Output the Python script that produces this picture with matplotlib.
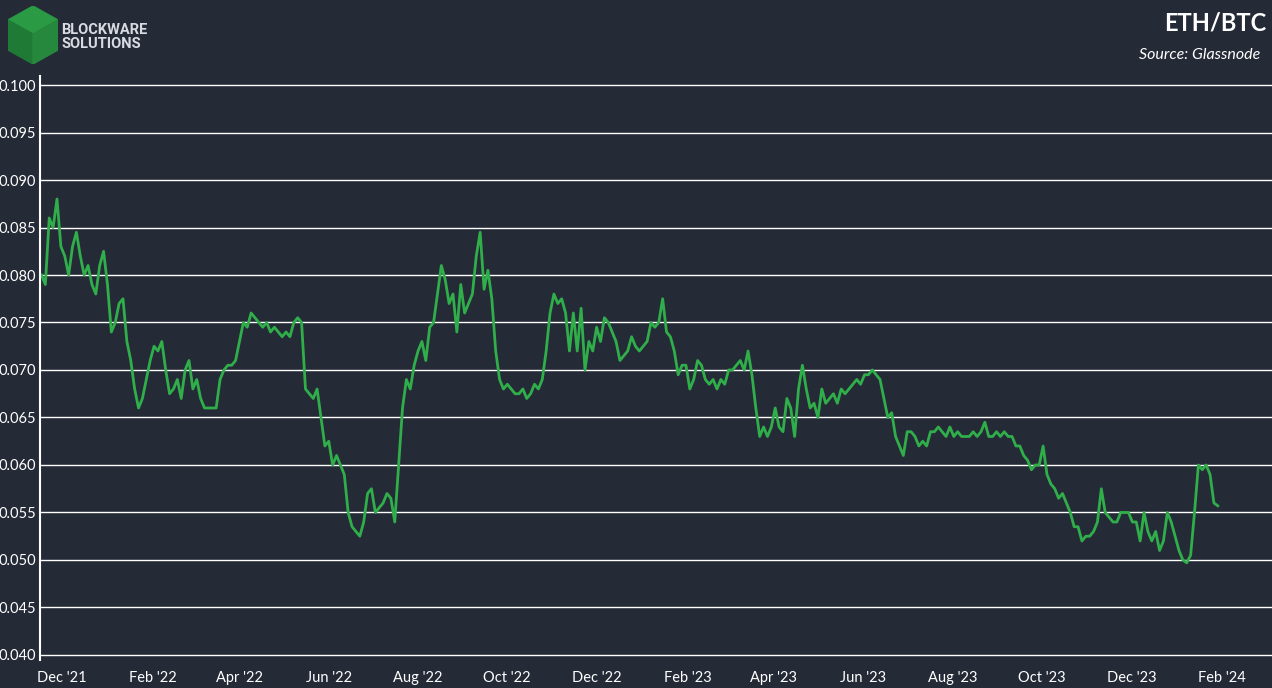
import matplotlib
matplotlib.use("Agg")
import matplotlib.pyplot as plt
import matplotlib.dates as mdates
import matplotlib.ticker as mticker
from matplotlib.patches import Polygon
import pandas as pd

values = [0.080,0.079,0.086,0.085,0.088,0.083,0.082,0.080,0.083,0.0845,0.082,0.080,0.081,0.079,0.078,0.081,0.0825,0.079,0.074,0.075,0.077,0.0775,0.073,0.071,0.068,0.066,0.067,0.069,0.071,0.0725,0.072,0.073,0.070,0.0675,0.068,0.069,0.067,0.070,0.071,0.068,0.069,0.067,0.066,0.066,0.066,0.066,0.069,0.070,0.0705,0.0705,0.071,0.073,0.075,0.0745,0.076,0.0755,0.075,0.0745,0.075,0.074,0.0745,0.074,0.0735,0.074,0.0735,0.075,0.0755,0.075,0.068,0.0675,0.067,0.068,0.065,0.062,0.0625,0.060,0.061,0.060,0.059,0.055,0.0535,0.053,0.0525,0.054,0.057,0.0575,0.055,0.0555,0.056,0.057,0.0565,0.054,0.060,0.066,0.069,0.068,0.0705,0.072,0.073,0.071,0.0745,0.075,0.078,0.081,0.0795,0.077,0.078,0.074,0.079,0.076,0.077,0.078,0.082,0.0845,0.0785,0.0805,0.0775,0.072,0.069,0.068,0.0685,0.068,0.0675,0.0675,0.068,0.067,0.0675,0.0685,0.068,0.069,0.072,0.076,0.078,0.077,0.0775,0.076,0.072,0.076,0.072,0.0765,0.070,0.073,0.072,0.0745,0.073,0.0755,0.075,0.074,0.073,0.071,0.0715,0.072,0.0735,0.0725,0.072,0.0725,0.073,0.075,0.0745,0.075,0.0775,0.074,0.0735,0.072,0.0695,0.0705,0.0705,0.068,0.069,0.071,0.0705,0.069,0.0685,0.069,0.068,0.069,0.0685,0.070,0.070,0.0705,0.071,0.070,0.072,0.0695,0.066,0.063,0.064,0.063,0.064,0.066,0.064,0.0635,0.067,0.066,0.063,0.068,0.0705,0.068,0.066,0.0665,0.065,0.068,0.0665,0.067,0.0675,0.0665,0.068,0.0675,0.068,0.0685,0.069,0.0685,0.0695,0.0695,0.070,0.0695,0.069,0.067,0.065,0.0655,0.063,0.062,0.061,0.0635,0.0635,0.063,0.062,0.0625,0.062,0.0635,0.0635,0.064,0.0635,0.063,0.064,0.063,0.0635,0.063,0.063,0.063,0.0635,0.063,0.0635,0.0645,0.063,0.063,0.0635,0.063,0.0635,0.063,0.063,0.062,0.062,0.061,0.0605,0.0595,0.060,0.060,0.062,0.059,0.058,0.0575,0.0565,0.057,0.056,0.055,0.0535,0.0535,0.052,0.0525,0.0525,0.053,0.054,0.0575,0.055,0.0545,0.054,0.054,0.055,0.055,0.055,0.054,0.054,0.052,0.055,0.053,0.052,0.053,0.051,0.052,0.055,0.054,0.0525,0.051,0.050,0.0497,0.0505,0.055,0.060,0.0595,0.060,0.059,0.056,0.0557]
dates = pd.date_range("2021-11-17", "2024-01-29", periods=len(values))
yticks = [0.040,0.045,0.050,0.055,0.060,0.065,0.070,0.075,0.080,0.085,0.090,0.095,0.100]

BG = "#252a37"
GREEN = "#2fae4a"
plt.rcParams['font.family'] = ['Lato', 'DejaVu Sans']

fig = plt.figure(figsize=(12.72, 6.88), dpi=100, facecolor=BG)
ax = fig.add_axes([40/1272, 28/688, 1232/1272, 584/688], facecolor=BG)
ax.plot(dates, values, color=GREEN, lw=2)
ax.set_ylim(0.03947, 0.10095)
ax.set_xlim(pd.Timestamp("2021-11-16"), pd.Timestamp("2024-03-06"))
ax.set_yticks(yticks)
ax.yaxis.set_major_formatter(mticker.FormatStrFormatter('%.3f'))
ax.grid(axis='y', color='white', lw=1)
ax.set_axisbelow(True)
ax.xaxis.set_major_locator(mdates.MonthLocator(bymonth=[2,4,6,8,10,12]))
ax.xaxis.set_major_formatter(mdates.DateFormatter("%b '%y"))
ax.tick_params(colors='white', labelsize=10.5, length=0, pad=3)
ax.tick_params(axis='x', pad=8)
for s in ['top', 'right', 'bottom']:
    ax.spines[s].set_visible(False)
ax.spines['left'].set_color('white')
ax.spines['left'].set_linewidth(1.5)

lax = fig.add_axes([8/1272, (688-64)/688, 50/1272, 58/688])
lax.set_xlim(0, 50); lax.set_ylim(0, 58); lax.axis('off')
lax.add_patch(Polygon([[25, 58], [50, 44], [25, 30], [0, 44]], color="#2a9a45"))
lax.add_patch(Polygon([[0, 44], [25, 30], [25, 0], [0, 14]], color="#1f7a36"))
lax.add_patch(Polygon([[25, 30], [50, 44], [50, 14], [25, 0]], color="#25883c"))
fig.text(61/1272, 1-37/688, "BLOCKWARE\nSOLUTIONS", color="#d8dbe2", fontsize=10.5,
         fontweight='bold', va='center', ha='left', linespacing=1.0, family=['Roboto', 'DejaVu Sans'])

fig.text(1266/1272, 1-23/688, "ETH/BTC", color='white', fontsize=17, fontweight='bold', ha='right', va='center')
fig.text(1260/1272, 1-55/688, "Source: Glassnode", color='white', fontsize=11.5, style='italic', ha='right', va='center')

fig.savefig("out.png", dpi=100, facecolor=BG)
